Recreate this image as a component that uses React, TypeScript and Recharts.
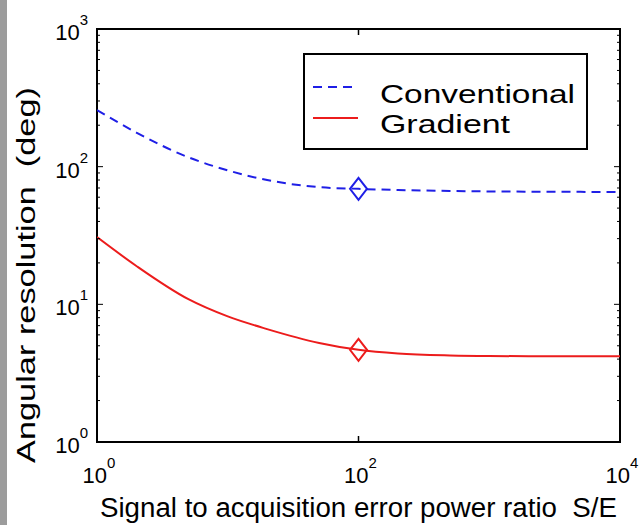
import React from 'react';
import { LineChart, Line, XAxis, YAxis, ReferenceArea, Legend } from 'recharts';

// S/E ratio (log axis) and angular resolution in degrees
const ratio = [1, 2, 5, 10, 20, 50, 100, 200, 500, 1000, 2000, 5000, 10000];
const conventional = [258, 177, 117, 94, 80, 71, 69, 67.7, 66.6, 66.1, 65.8, 65.6, 65.5];
const gradient = [30.8, 19.0, 10.9, 8.17, 6.61, 5.24, 4.67, 4.39, 4.25, 4.21, 4.2, 4.2, 4.2];
const markerAt = 100;

const xTicks = [1, 100, 10000];
const yMajor = [1, 10, 100, 1000];
const yMinor = [1, 10, 100].flatMap((d) => [2, 3, 4, 5, 6, 7, 8, 9].map((m) => m * d));

const series = [
  { key: 'conventional', name: 'Conventional', color: '#1f1fe6', dash: '9 6', textLen: 195 },
  { key: 'gradient', name: 'Gradient', color: '#ec1c1c', dash: undefined, textLen: 130 },
];

const data = ratio.map((x, i) => ({ x, conventional: conventional[i], gradient: gradient[i] }));

const FONT = '"Liberation Sans", Arial, Helvetica, sans-serif';
const W = 640;
const H = 525;
const LEFT = 97;
const RIGHT = 620;
const TOP = 29;
const BOTTOM = 442;

const exp = (v: number) => Math.round(Math.log10(v));

const XTick = (props: any) => {
  const { x, payload } = props;
  return (
    <g>
      <line x1={x} x2={x} y1={BOTTOM} y2={BOTTOM - 6} stroke="#000" strokeWidth={1.5} />
      <line x1={x} x2={x} y1={TOP} y2={TOP + 6} stroke="#000" strokeWidth={1.5} />
      <text x={x + 2} y={483} textAnchor="middle" fontFamily={FONT} fontSize={22} fill="#000">
        <tspan>10</tspan>
        <tspan dy={-15} fontSize={15}>{exp(payload.value)}</tspan>
      </text>
    </g>
  );
};

const YTick = (props: any) => {
  const { y, payload } = props;
  const major = yMajor.includes(payload.value);
  const len = major ? 6 : 3;
  return (
    <g>
      <line x1={LEFT} x2={LEFT + len} y1={y} y2={y} stroke="#000" strokeWidth={1} />
      <line x1={RIGHT - len} x2={RIGHT} y1={y} y2={y} stroke="#000" strokeWidth={1} />
      {major && (
        <text x={88} y={y + 11} textAnchor="end" fontFamily={FONT} fontSize={22} fill="#000">
          <tspan>10</tspan>
          <tspan dy={-15} fontSize={15}>{exp(payload.value)}</tspan>
        </text>
      )}
    </g>
  );
};

const diamond = (color: string) => (p: any) => {
  if (p.payload.x !== markerAt) return <g key={p.index} />;
  const { cx, cy } = p;
  return (
    <path
      key={p.index}
      d={`M${cx},${cy - 11} L${cx + 8.5},${cy} L${cx},${cy + 11} L${cx - 8.5},${cy} Z`}
      fill="none"
      stroke={color}
      strokeWidth={2}
    />
  );
};

const LegendBox = () => (
  <svg width={285} height={97} style={{ display: 'block' }}>
    <rect x={1} y={1} width={283} height={95} fill="#fff" stroke="#000" strokeWidth={2} />
    {series.map((s, i) => (
      <g key={s.key}>
        <line
          x1={10}
          x2={55}
          y1={34 + i * 31}
          y2={34 + i * 31}
          stroke={s.color}
          strokeWidth={2}
          strokeDasharray={s.dash}
        />
        <text
          x={77}
          y={49.5 + i * 30}
          fontFamily={FONT}
          fontSize={26.5}
          fill="#000"
          textLength={s.textLen}
          lengthAdjust="spacingAndGlyphs"
        >
          {s.name}
        </text>
      </g>
    ))}
  </svg>
);

export default function App() {
  return (
    <div style={{ position: 'absolute', left: 0, top: 0, width: W, height: H, background: '#fff' }}>
      <div style={{ position: 'absolute', left: 0, top: 0, width: 7, height: H, background: '#9c9c9c' }} />
      <LineChart
        width={W}
        height={H}
        data={data}
        margin={{ top: TOP, right: W - RIGHT, bottom: 0, left: 0 }}
      >
        <XAxis
          dataKey="x"
          type="number"
          scale="log"
          domain={[1, 10000]}
          allowDataOverflow
          ticks={xTicks}
          interval={0}
          height={H - BOTTOM}
          axisLine={false}
          tickLine={false}
          tick={<XTick />}
          label={{
            content: () => (
              <text
                x={100}
                y={517}
                fontFamily={FONT}
                fontSize={27}
                fill="#000"
                textLength={517}
                lengthAdjust="spacingAndGlyphs"
              >
                Signal to acquisition error power ratio{'\u00a0\u00a0'}S/E
              </text>
            ),
          }}
        />
        <YAxis
          type="number"
          scale="log"
          domain={[1, 1000]}
          allowDataOverflow
          ticks={[...yMajor, ...yMinor].sort((a, b) => a - b)}
          interval={0}
          width={LEFT}
          axisLine={false}
          tickLine={false}
          tick={<YTick />}
          label={{
            content: () => (
              <text
                x={35}
                y={463}
                transform="rotate(-90 35 463)"
                fontFamily={FONT}
                fontSize={26}
                fill="#000"
                textLength={376}
                lengthAdjust="spacingAndGlyphs"
              >
                Angular resolution{'\u00a0\u00a0'}(deg)
              </text>
            ),
          }}
        />
        <Legend
          layout="horizontal"
          verticalAlign="middle"
          align="center"
          content={<LegendBox />}
          wrapperStyle={{ position: 'absolute', left: 303, top: 53, width: 285, height: 97 }}
        />
        {series.map((s) => (
          <Line
            key={s.key}
            dataKey={s.key}
            name={s.name}
            type="monotone"
            stroke={s.color}
            strokeWidth={2}
            strokeDasharray={s.dash}
            dot={diamond(s.color)}
            activeDot={false}
            isAnimationActive={false}
          />
        ))}
        <ReferenceArea
          x1={1}
          x2={10000}
          y1={1}
          y2={1000}
          fill="none"
          fillOpacity={0}
          stroke="#000"
          strokeWidth={2}
          ifOverflow="visible"
        />
      </LineChart>
    </div>
  );
}
